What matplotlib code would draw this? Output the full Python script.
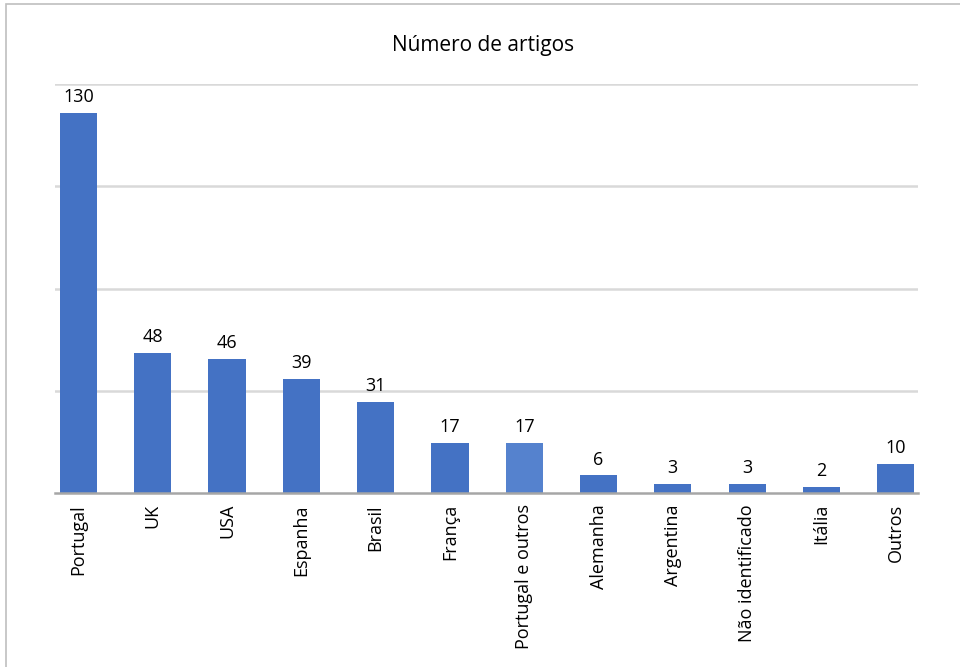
import matplotlib.pyplot as plt
from matplotlib.patches import Rectangle

# Data
categories = ["Portugal", "UK", "USA", "Espanha", "Brasil", "França",
              "Portugal e outros", "Alemanha", "Argentina", "Não identificado",
              "Itália", "Outros"]
counts = [130, 48, 46, 39, 31, 17, 17, 6, 3, 3, 2, 10]
bar_colors = ["#4472C4"] * 6 + ["#5582CE"] + ["#4472C4"] * 5
title = "Número de artigos"

plt.rcParams["font.family"] = ["Open Sans", "DejaVu Sans"]

W, H = 960, 667
fig = plt.figure(figsize=(W / 100, H / 100), dpi=100)

# Excel-style chart area border (left and top visible)
fig.patches.append(Rectangle((6 / W, -0.1), 1.2, 1 - 4 / H + 0.1,
                             transform=fig.transFigure, fill=False,
                             edgecolor="#BFBFBF", linewidth=1.2))

ax = fig.add_axes([55 / W, 1 - 493 / H, (918 - 55) / W, (493 - 84) / H])
x = range(len(categories))
ax.bar(x, counts, width=0.5, color=bar_colors, zorder=3)

for i, v in zip(x, counts):
    ax.annotate(str(v), (i, v), xytext=(0, 5), textcoords="offset points",
                ha="center", va="bottom", fontsize=13, color="#000000")

ax.set_xlim(-0.316, 11.3)
ax.set_ylim(0, 140)
ax.set_yticks([35, 70, 105, 140])
ax.yaxis.grid(True, color="#D9D9D9", linewidth=1.8, zorder=0)
ax.tick_params(axis="y", left=False, labelleft=False)
ax.set_xticks(list(x))
ax.set_xticklabels(categories, rotation=90, fontsize=13, va="top")
ax.tick_params(axis="x", length=0, pad=8)
for s in ["top", "right", "left"]:
    ax.spines[s].set_visible(False)
ax.spines["bottom"].set_color("#A6A6A6")
ax.spines["bottom"].set_linewidth(1.8)
ax.spines["bottom"].set_zorder(4)

fig.text(483 / W, 1 - 45 / H, title, ha="center", va="center", fontsize=15)

fig.savefig("out.png", dpi=100, facecolor="white")
